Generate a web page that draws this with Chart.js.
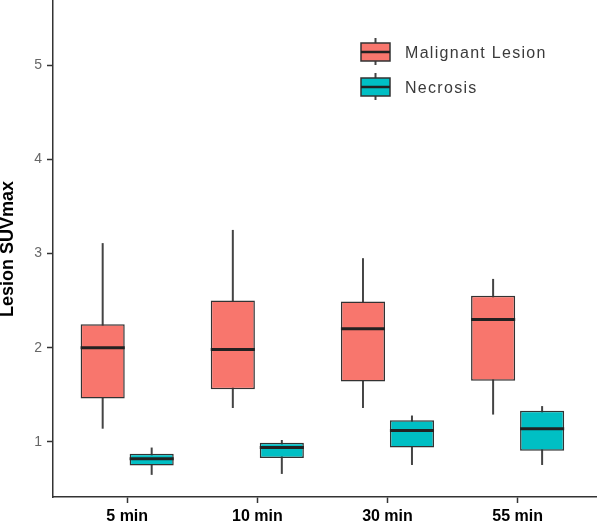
<!DOCTYPE html>
<html>
<head>
<meta charset="utf-8">
<script src="https://cdn.jsdelivr.net/npm/chart.js@4.4.0/dist/chart.umd.min.js"></script>
<style>
  html, body { margin: 0; padding: 0; background: #fff; }
</style>
</head>
<body>
<canvas id="suv-boxplot" width="597" height="524"></canvas>
<script>
// time points on the x axis
const TIMES = ['5 min', '10 min', '30 min', '55 min'];
const POSITIONS = [1, 2, 3, 4];
const Y_TICKS = [1, 2, 3, 4, 5];

// Malignant lesion boxes
const malignantLow = [1.14, 1.36, 1.36, 1.29];
const malignantQ1 = [1.46, 1.56, 1.64, 1.65];
const malignantMedian = [2.00, 1.98, 2.20, 2.30];
const malignantQ3 = [2.25, 2.50, 2.49, 2.55];
const malignantHigh = [3.11, 3.25, 2.95, 2.73];

// Necrosis boxes
const necrosisLow = [0.65, 0.66, 0.755, 0.755];
const necrosisQ1 = [0.75, 0.83, 0.94, 0.905];
const necrosisMedian = [0.82, 0.94, 1.12, 1.14];
const necrosisQ3 = [0.875, 0.99, 1.23, 1.33];
const necrosisHigh = [0.94, 1.02, 1.28, 1.38];

const FONT = "'Liberation Sans', Arial, sans-serif";
Chart.defaults.font.family = FONT;

function boxes(q1, q3) {
    return POSITIONS.map((x, i) => ({ x: x, y: [q1[i], q3[i]] }));
}

const datasets = [{
    label: 'Malignant Lesion',
    data: boxes(malignantQ1, malignantQ3),
    low: malignantLow,
    median: malignantMedian,
    high: malignantHigh,
    backgroundColor: '#F8766D',
    borderColor: '#333333',
    borderWidth: 1.5,
    borderSkipped: false,
    categoryPercentage: 0.753,
    barPercentage: 0.9
}, {
    label: 'Necrosis',
    data: boxes(necrosisQ1, necrosisQ3),
    low: necrosisLow,
    median: necrosisMedian,
    high: necrosisHigh,
    backgroundColor: '#00BFC4',
    borderColor: '#333333',
    borderWidth: 1.5,
    borderSkipped: false,
    categoryPercentage: 0.753,
    barPercentage: 0.9
}];

// whiskers behind the boxes, medians on top
const boxWhiskers = {
    id: 'boxWhiskers',
    beforeDatasetsDraw(chart) {
        const ctx = chart.ctx;
        const y = chart.scales.y;
        ctx.save();
        ctx.strokeStyle = '#444444';
        ctx.lineWidth = 2;
        chart.data.datasets.forEach((ds, d) => {
            chart.getDatasetMeta(d).data.forEach((bar, i) => {
                ctx.beginPath();
                ctx.moveTo(bar.x, y.getPixelForValue(ds.low[i]));
                ctx.lineTo(bar.x, y.getPixelForValue(ds.high[i]));
                ctx.stroke();
            });
        });
        ctx.restore();
    },
    afterDatasetsDraw(chart) {
        const ctx = chart.ctx;
        const y = chart.scales.y;
        ctx.save();
        ctx.strokeStyle = '#222222';
        ctx.lineWidth = 3;
        chart.data.datasets.forEach((ds, d) => {
            chart.getDatasetMeta(d).data.forEach((bar, i) => {
                const py = y.getPixelForValue(ds.median[i]);
                ctx.beginPath();
                ctx.moveTo(bar.x - bar.width / 2, py);
                ctx.lineTo(bar.x + bar.width / 2, py);
                ctx.stroke();
            });
        });
        ctx.restore();
    }
};

// ggplot style legend keys inside the panel
const boxLegend = {
    id: 'boxLegend',
    afterDraw(chart) {
        const ctx = chart.ctx;
        ctx.save();
        chart.data.datasets.forEach((ds, d) => {
            const cy = 52 + d * 35;
            const cx = 375.5;
            ctx.strokeStyle = '#444444';
            ctx.lineWidth = 2;
            ctx.beginPath();
            ctx.moveTo(cx, cy - 14);
            ctx.lineTo(cx, cy + 13);
            ctx.stroke();
            ctx.fillStyle = ds.backgroundColor;
            ctx.fillRect(361, cy - 9, 29, 18);
            ctx.strokeStyle = '#333333';
            ctx.lineWidth = 1.5;
            ctx.strokeRect(361, cy - 9, 29, 18);
            ctx.strokeStyle = '#222222';
            ctx.lineWidth = 2.5;
            ctx.beginPath();
            ctx.moveTo(361, cy);
            ctx.lineTo(390, cy);
            ctx.stroke();
            ctx.fillStyle = '#3a3a3a';
            ctx.font = '16px ' + FONT;
            ctx.letterSpacing = '1.3px';
            ctx.textBaseline = 'middle';
            ctx.fillText(ds.label, 405, cy + 1.5);
        });
        ctx.restore();
    }
};

const chart = new Chart(document.getElementById('suv-boxplot'), {
    type: 'bar',
    data: { datasets: datasets },
    options: {
        responsive: false,
        animation: false,
        layout: { padding: { top: 1, right: 0, left: 0, bottom: 0 } },
        plugins: {
            legend: { display: false },
            tooltip: { enabled: false }
        },
        scales: {
            x: {
                type: 'linear',
                min: 0.43,
                max: 4.61,
                offset: false,
                afterBuildTicks: s => { s.ticks = POSITIONS.map(v => ({ value: v })); },
                afterFit: s => { s.height = 27; s.paddingLeft = 0; s.paddingRight = 0; },
                ticks: {
                    callback: (v, i) => TIMES[i],
                    color: '#000',
                    font: { size: 16, weight: 'bold' },
                    padding: 4,
                    autoSkip: false,
                    maxRotation: 0
                },
                grid: { drawOnChartArea: false, offset: false, tickLength: 6, color: '#333', tickWidth: 1.5 },
                border: { color: '#333', width: 1.5 }
            },
            y: {
                min: 0.415,
                max: 5.68,
                afterBuildTicks: s => { s.ticks = Y_TICKS.map(v => ({ value: v })); },
                afterFit: s => { s.width = 53; s.paddingTop = 0; s.paddingBottom = 0; },
                ticks: { color: '#666', font: { size: 14 }, padding: 5 },
                grid: { drawOnChartArea: false, tickLength: 6, color: '#333', tickWidth: 1.5 },
                border: { color: '#333', width: 1.5 },
                title: {
                    display: true,
                    text: 'Lesion SUVmax',
                    color: '#000',
                    font: { size: 18, weight: 'bold' },
                    padding: { top: -3, bottom: 0 }
                }
            }
        }
    },
    plugins: [boxWhiskers, boxLegend]
});
</script>
</body>
</html>
